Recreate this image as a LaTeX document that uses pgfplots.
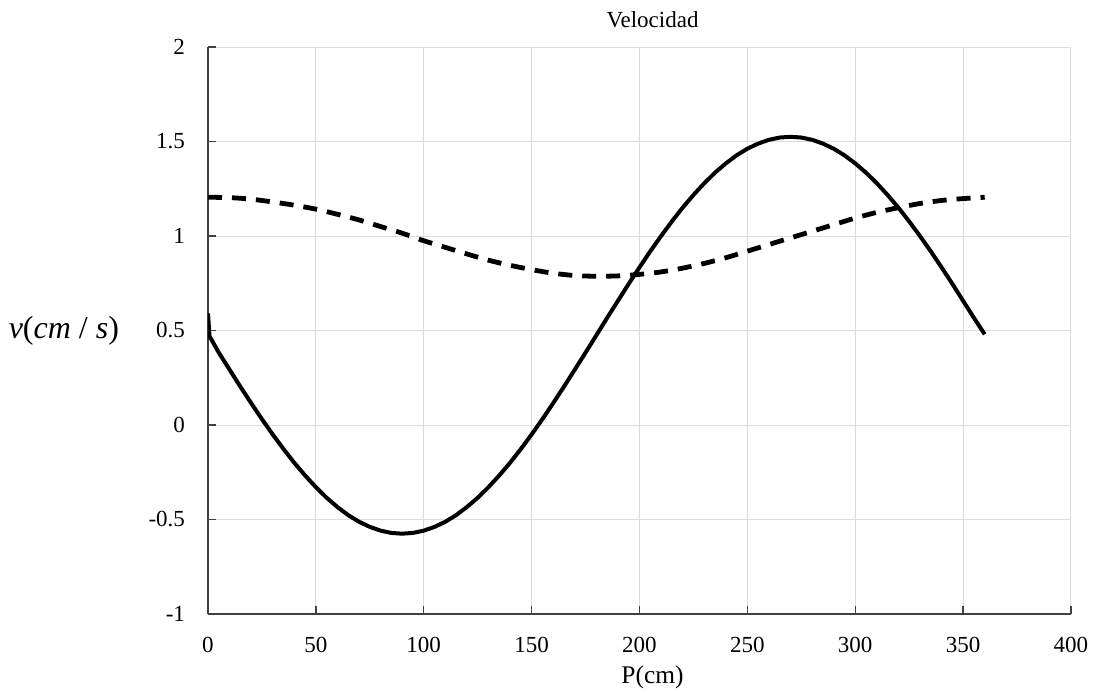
\documentclass[border=0pt]{standalone}
\usepackage{fontspec}
\setmainfont{Liberation Serif}
\usepackage{pgfplots}
\pgfplotsset{compat=1.18}

\definecolor{axisgray}{HTML}{404040}
\definecolor{gridgray}{HTML}{DCDCDC}

\begin{document}
\begin{tikzpicture}
  % page size: 1097 x 692 px at 0.5pt per px, axis box starts at (0,0)
  \path[use as bounding box] (-104pt,-39pt) rectangle (444.5pt,307pt);
  \begin{axis}[
      scale only axis,
      width=431.5pt,
      height=283.5pt,
      xmin=0, xmax=400,
      ymin=-1, ymax=2,
      xtick={0,50,...,400},
      ytick={-1,-0.5,0,0.5,1,1.5,2},
      axis x line*=bottom,
      axis y line*=left,
      axis line style={axisgray, line width=0.8pt},
      tick align=inside,
      major tick length=4pt,
      tick style={axisgray, line width=0.7pt},
      grid=major,
      major grid style={gridgray, line width=0.5pt},
      /pgf/number format/assume math mode=true,
      ticklabel style={font=\fontsize{11.5}{13}\selectfont},
      xticklabel style={yshift=-8pt},
      yticklabel style={xshift=-8pt},
      xlabel={P(cm)},
      every axis x label/.style={at={(axis description cs:0.5,0)}, anchor=center,
        yshift=-31.5pt, xshift=6.5pt, font=\fontsize{12.7}{14}\selectfont},
      ylabel={\textit{v}(\textit{cm} / \textit{s})},
      every axis y label/.style={at={(axis description cs:0,0.5)}, anchor=east,
        xshift=-41pt, font=\fontsize{16}{18}\selectfont},
      title={Velocidad},
      every axis title/.style={at={(axis description cs:0.5,1)}, anchor=center,
        yshift=13.5pt, xshift=6.5pt, font=\fontsize{11.5}{13}\selectfont},
    ]

    % velocidad (continua)
    \addplot[black, line width=2pt, line join=round] coordinates {
      (0,0.59) (0.7,0.47) (5,0.383) (10,0.293) (15,0.203) (20,0.116) (25,0.031)
      (30,-0.050) (35,-0.127) (40,-0.200) (45,-0.267) (50,-0.329) (55,-0.385)
      (60,-0.434) (65,-0.477) (70,-0.512) (75,-0.539) (80,-0.559) (85,-0.571)
      (90,-0.575) (95,-0.571) (100,-0.559) (105,-0.539) (110,-0.512) (115,-0.477)
      (120,-0.434) (125,-0.385) (130,-0.329) (135,-0.267) (140,-0.200) (145,-0.127)
      (150,-0.050) (155,0.031) (160,0.116) (165,0.203) (170,0.293) (175,0.383)
      (180,0.475) (185,0.567) (190,0.657) (195,0.747) (200,0.834) (205,0.919)
      (210,1.000) (215,1.077) (220,1.150) (225,1.217) (230,1.279) (235,1.335)
      (240,1.384) (245,1.427) (250,1.462) (255,1.489) (260,1.509) (265,1.521)
      (270,1.525) (275,1.521) (280,1.509) (285,1.489) (290,1.462) (295,1.427)
      (300,1.384) (305,1.335) (310,1.279) (315,1.217) (320,1.150) (325,1.077)
      (330,1.000) (335,0.919) (340,0.834) (345,0.747) (350,0.657) (355,0.567)
      (360,0.48)
    };

    % velocidad (discontinua)
    \addplot[black, line width=2.4pt, smooth, dash pattern=on 7pt off 5pt] coordinates {
      (0,1.205) (10,1.203) (20,1.195) (30,1.180) (40,1.163) (50,1.142)
      (60,1.115) (70,1.085) (80,1.050) (90,1.015) (100,0.975) (110,0.940)
      (120,0.905) (130,0.872) (140,0.845) (150,0.822) (160,0.803) (170,0.791)
      (180,0.787) (190,0.789) (200,0.797) (210,0.810) (220,0.830) (230,0.855)
      (240,0.885) (250,0.920) (260,0.955) (270,0.990) (280,1.025) (290,1.060)
      (300,1.095) (310,1.125) (320,1.150) (330,1.172) (340,1.188) (350,1.198)
      (360,1.205)
    };
  \end{axis}
\end{tikzpicture}
\end{document}
